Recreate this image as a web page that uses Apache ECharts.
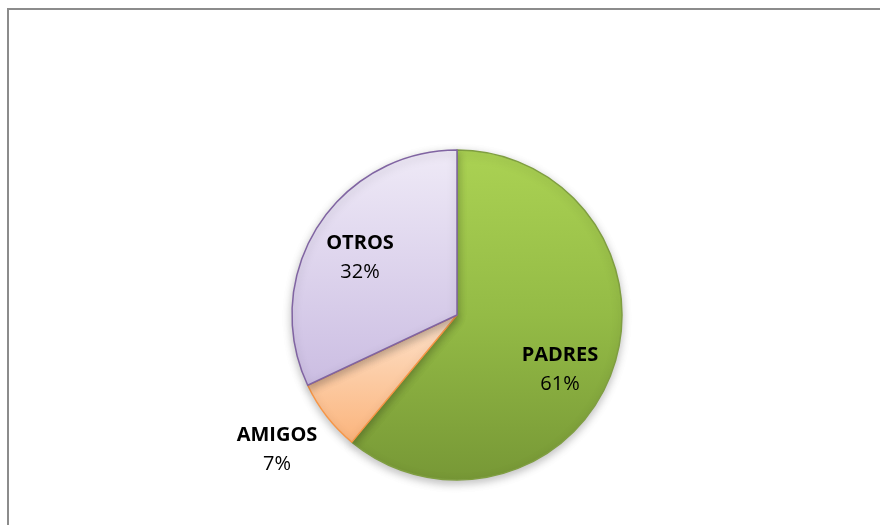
<!DOCTYPE html>
<html>
<head>
<meta charset="utf-8">
<script src="https://cdn.jsdelivr.net/npm/echarts@6/dist/echarts.min.js"></script>
<style>html,body{margin:0;padding:0;background:#fff}#c{width:880px;height:525px}</style>
</head>
<body>
<div id="c"></div>
<script>
var categories = ['PADRES', 'AMIGOS', 'OTROS'];
var values = [61, 7, 32];

var G = echarts.graphic;
var styles = [
  { color: new G.LinearGradient(0, 0, 0, 1, [{offset: 0, color: '#abd253'}, {offset: 0.5, color: '#94bb46'}, {offset: 1, color: '#779836'}]), borderColor: '#7f9e41' },
  { color: new G.LinearGradient(0, 0, 0, 1, [{offset: 0, color: '#fde2cb'}, {offset: 1, color: '#fbb47c'}]), borderColor: '#f79646' },
  { color: new G.LinearGradient(0, 0, 0, 1, [{offset: 0, color: '#efeaf7'}, {offset: 1, color: '#cbbde2'}]), borderColor: '#8064a2' }
];
// label anchor positions (center of label block)
var labelPos = [[560, 370], [277, 450], [360, 258]];

var chart = echarts.init(document.getElementById('c'));
chart.setOption({
  animation: false,
  backgroundColor: '#fff',
  graphic: [{
    type: 'rect', shape: {x: 8, y: 9, width: 1000, height: 1000},
    style: {fill: 'none', stroke: '#8c8c8c', lineWidth: 2}, silent: true, z: -10
  }],
  series: [{
    type: 'pie',
    center: [457, 315],
    radius: [0, 165],
    startAngle: 90,
    clockwise: true,
    avoidLabelOverlap: false,
    labelLine: {show: false},
    label: {
      show: true,
      position: 'inside',
      formatter: function (p) { return '{b|' + p.name + '}\n{v|' + p.value + '%}'; },
      rich: {
        b: {fontFamily: 'Open Sans', fontWeight: 'bold', fontSize: 20, color: '#000', lineHeight: 29},
        v: {fontFamily: 'Open Sans', fontSize: 20, color: '#000', lineHeight: 29}
      }
    },
    labelLayout: function (params) {
      var p = labelPos[params.dataIndex];
      return {x: p[0], y: p[1], align: 'center', verticalAlign: 'middle'};
    },
    itemStyle: {
      borderWidth: 1.5,
      shadowBlur: 8, shadowOffsetY: 3, shadowColor: 'rgba(0,0,0,0.25)'
    },
    emphasis: {disabled: true},
    data: categories.map(function (c, i) {
      return {name: c, value: values[i], itemStyle: styles[i]};
    })
  }]
});
</script>
</body>
</html>
